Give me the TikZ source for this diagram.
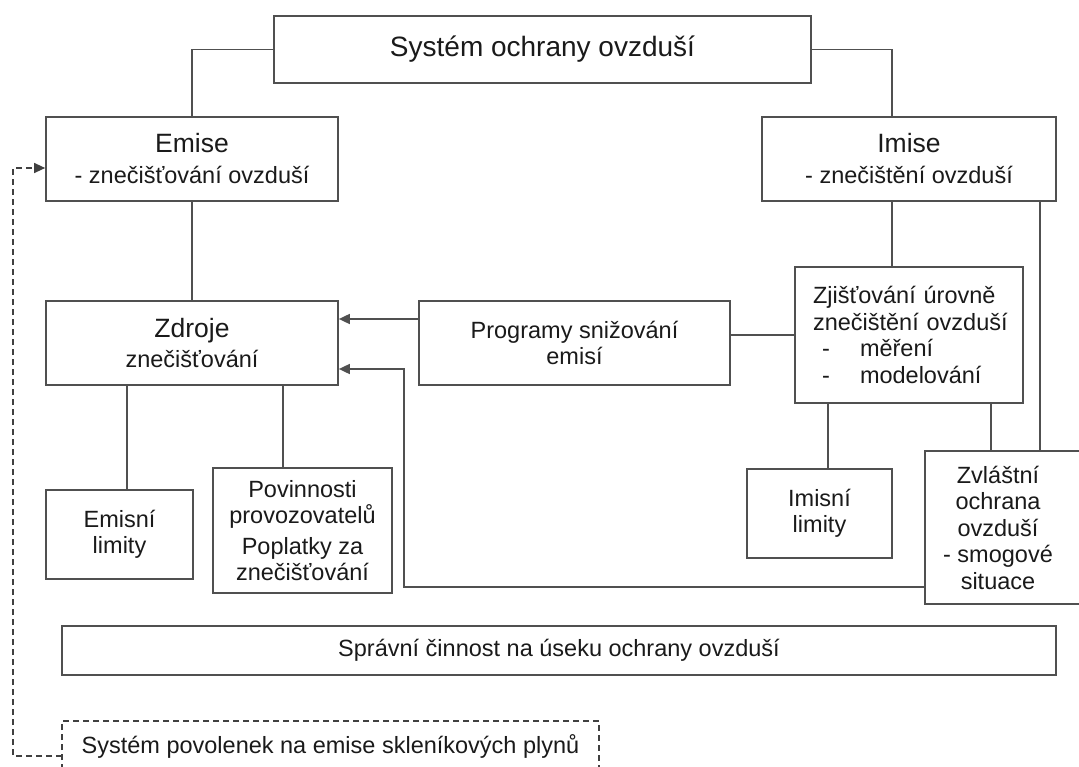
\documentclass[tikz,border=0pt]{standalone}
\usepackage{fontspec}
\setmainfont{Liberation Sans}
\usetikzlibrary{arrows.meta,calc}
\definecolor{ln}{HTML}{505050}
\definecolor{tx}{HTML}{1A1A1A}
\begin{document}
\begin{tikzpicture}[x=1pt,y=-1pt,
  box/.style={draw=ln,line width=1.7pt,fill=white,text=tx,align=center,inner sep=0pt,
    font=\fontsize{23.5}{26.5}\selectfont},
  conn/.style={draw=ln,line width=1.7pt},
  arr/.style={conn,-{Triangle[length=11pt,width=10pt]}},
  dashln/.style={draw=black!75,line width=1.4pt,dash pattern=on 6pt off 4pt}
]
\useasboundingbox (0,0) rectangle (1079,767);
\fill[white] (0,0) rectangle (1079,767);

\node[box,minimum width=537pt,minimum height=67pt] (top) at (542.5,49.5)
  {\raisebox{7pt}{\fontsize{28}{30}\selectfont Systém ochrany ovzduší}};
\node[box,minimum width=292pt,minimum height=84pt,font=\fontsize{23.5}{31}\selectfont] (emise) at (192,159)
  {{\fontsize{26.5}{31}\selectfont Emise}\\- znečišťování ovzduší};
\node[box,minimum width=294pt,minimum height=84pt,font=\fontsize{23.5}{31}\selectfont] (imise) at (909,159)
  {{\fontsize{26.5}{31}\selectfont Imise}\\- znečištění ovzduší};
\node[box,minimum width=292pt,minimum height=84pt,font=\fontsize{23.5}{30}\selectfont] (zdroje) at (192,343)
  {{\fontsize{26.5}{30}\selectfont Zdroje}\\znečišťování};
\node[box,minimum width=311pt,minimum height=84pt] (prog) at (574.5,343)
  {Programy snižování\\emisí};
\node[box,minimum height=136pt,text width=192pt,inner xsep=18pt,align=left] (zj) at (909,335)
  {\mbox{Zjišťování úrovně}\\\mbox{znečištění ovzduší}\\\makebox[47pt][l]{\hspace*{9pt}-}měření\\\makebox[47pt][l]{\hspace*{9pt}-}modelování};
\node[box,minimum width=147pt,minimum height=89pt] (el) at (119.5,534.5) {Emisní\\limity};
\node[box,minimum width=179pt,minimum height=125pt] (pov) at (302.5,530.5)
  {Povinnosti\\provozovatelů\\[4pt]Poplatky za\\znečišťování};
\node[box,minimum width=145pt,minimum height=89pt] (il) at (819.5,513.5) {Imisní\\limity};
\node[box,draw=none,fill=none,minimum width=144pt,minimum height=151pt] (zv) at (998,527.5)
  {Zvláštní\\ochrana\\ovzduší\\- smogové\\situace};
\draw[conn] ($(zv.north east)+(30,0)$) -- (zv.north west) -- (zv.south west) -- ($(zv.south east)+(30,0)$);
\node[box,minimum width=994pt,minimum height=49pt] (spr) at (559,650.5)
  {Správní činnost na úseku ochrany ovzduší};
\node[text=tx,font=\fontsize{23.5}{26.5}\selectfont,inner sep=0pt] (sp) at (330.5,746)
  {Systém povolenek na emise skleníkových plynů};
\draw[dashln] (62,790) -- (62,721) -- (599,721) -- (599,790);

\draw[conn] (top.west) -| (emise.north);
\draw[conn] (top.east) -| ($(imise.north)+(-17,0)$);
\draw[conn] (emise.south) -- (zdroje.north);
\draw[conn] ($(imise.south)+(-17,0)$) -- ($(zj.north)+(-17,0)$);
\coordinate (ir) at ($(imise.south east)+(-17,0)$);
\draw[conn] (ir) -- (ir |- zv.north);
\draw[conn] (zj.west) -- (zj.west -| prog.east);
\coordinate (a1) at ($(prog.west)+(0,-24)$);
\draw[arr] (a1) -- (a1 -| zdroje.east);
\coordinate (a2) at ($(zv.west)+(0,59.5)$);
\coordinate (a2e) at ($(zdroje.east)+(0,26)$);
\draw[arr] (a2) -| (404,369) -- (a2e);
\coordinate (c1) at ($(il.north)+(8.5,0)$);
\draw[conn] (c1) -- (c1 |- zj.south);
\coordinate (c2) at ($(zv.north)+(-7,0)$);
\draw[conn] (c2) -- (c2 |- zj.south);
\coordinate (c3) at ($(el.north)+(7.5,0)$);
\draw[conn] (c3) -- (c3 |- zdroje.south);
\coordinate (c4) at ($(pov.north)+(-19.5,0)$);
\draw[conn] (c4) -- (c4 |- zdroje.south);
\coordinate (d1) at (62,756);
\coordinate (d2) at ($(emise.west)+(0,9)$);
\draw[dashln,-{Triangle[length=11pt,width=10pt]}] (d1) -- (13,756) -- (13,168) -- (d2);
\end{tikzpicture}
\end{document}
